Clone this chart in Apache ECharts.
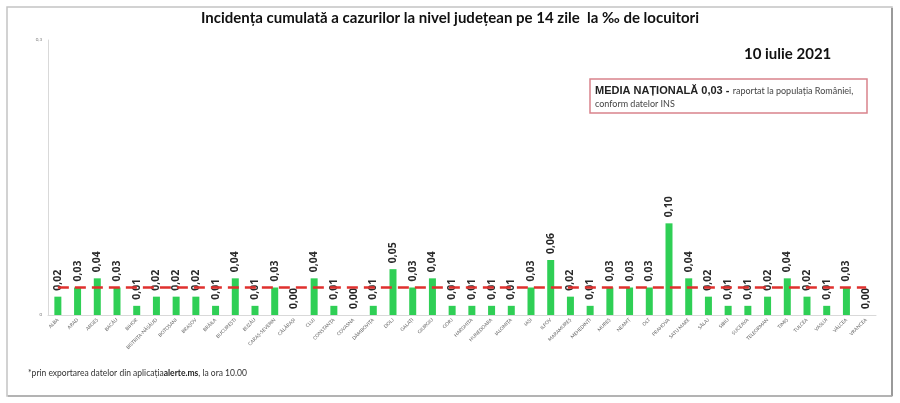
<!DOCTYPE html>
<html>
<head>
<meta charset="utf-8">
<script src="https://cdn.jsdelivr.net/npm/echarts@6/dist/echarts.min.js"></script>
<style>
html,body{margin:0;padding:0;background:#fff;}
#mainCharts{width:900px;height:403px;}
</style>
</head>
<body>
<div id="mainCharts"></div>
<script>
var judete=['ALBA','ARAD','ARGEȘ','BACĂU','BIHOR','BISTRIȚA-NĂSĂUD','BOTOȘANI','BRAȘOV','BRĂILA','BUCUREȘTI',
 'BUZĂU','CARAȘ-SEVERIN','CĂLĂRAȘI','CLUJ','CONSTANȚA','COVASNA','DÂMBOVIȚA','DOLJ','GALAȚI','GIURGIU',
 'GORJ','HARGHITA','HUNEDOARA','IALOMIȚA','IAȘI','ILFOV','MARAMUREȘ','MEHEDINȚI','MUREȘ','NEAMȚ',
 'OLT','PRAHOVA','SATU MARE','SĂLAJ','SIBIU','SUCEAVA','TELEORMAN','TIMIȘ','TULCEA','VASLUI',
 'VÂLCEA','VRANCEA'];
var incidenta=[0.02,0.03,0.04,0.03,0.01,0.02,0.02,0.02,0.01,0.04,
 0.01,0.03,0.00,0.04,0.01,0.00,0.01,0.05,0.03,0.04,
 0.01,0.01,0.01,0.01,0.03,0.06,0.02,0.01,0.03,0.03,
 0.03,0.10,0.04,0.02,0.01,0.01,0.02,0.04,0.02,0.01,
 0.03,0.00];
var mediaNationala=0.03;
var yMax=0.3;

var chart=echarts.init(document.getElementById('mainCharts'));
var fmt=function(v){return v.toFixed(2).replace('.',',');};

chart.setOption({
    animation:false,
    textStyle:{fontFamily:'Lato'},
    grid:{left:48,right:24,top:40,bottom:88},
    xAxis:{
        type:'category',data:judete,
        axisLine:{lineStyle:{color:'#d9d9d9',width:1}},
        axisTick:{show:false},
        axisLabel:{rotate:45,fontSize:4.8,color:'#666',margin:4,interval:0}
    },
    yAxis:{
        type:'value',min:0,max:yMax,interval:yMax,
        axisLine:{show:true,lineStyle:{color:'#d9d9d9'}},
        splitLine:{show:false},
        axisLabel:{fontSize:4.5,color:'#777',margin:6,formatter:function(v){return String(v).replace('.',',');}}
    },
    series:[{
        type:'bar',data:incidenta,barWidth:7,
        itemStyle:{color:'#2fcf55'},
        label:{show:true,position:'top',rotate:90,align:'left',verticalAlign:'middle',distance:6,
            fontFamily:'Open Sans',fontSize:10.5,fontWeight:'bold',color:'#2a2a2a',
            formatter:function(p){return fmt(p.value);}},
        markLine:{
            symbol:'none',silent:true,label:{show:false},
            lineStyle:{color:'#e0302e',type:[11,6],width:2.5},
            data:[[{coord:[0,mediaNationala]},{coord:[judete.length-1,mediaNationala]}]]
        }
    }],
    graphic:[
        // chenarul exterior
        {type:'rect',shape:{x:7,y:7,width:885,height:389},style:{fill:'none',stroke:'#c4c4c4',lineWidth:1.5},z:-1},
        {type:'line',shape:{x1:892,y1:8,x2:892,y2:396},style:{stroke:'#9a9a9a',lineWidth:2}},
        {type:'line',shape:{x1:8,y1:396,x2:892,y2:396},style:{stroke:'#a8a8a8',lineWidth:1.5}},
        {type:'text',left:'center',top:11,style:{text:'Incidența cumulată a cazurilor la nivel județean pe 14 zile  la ‰ de locuitori',
            font:'bold 15px Lato',fill:'#111'}},
        {type:'text',x:744,y:47,style:{text:'10 iulie 2021',font:'bold 15px Lato',fill:'#111'}},
        // caseta cu media nationala
        {type:'rect',shape:{x:590,y:79,width:277,height:34},style:{fill:'#fff',stroke:'#d9838c',lineWidth:1.5}},
        {type:'text',x:595,y:85,style:{rich:{b:{font:'bold 11px "Liberation Sans"',fill:'#222'},s:{font:'9px Lato',fill:'#444'}},
            text:'{b|MEDIA NAȚIONALĂ 0,03 -} {s|raportat la populația României,}'}},
        {type:'text',x:595,y:100,style:{text:'conform datelor INS',font:'9px Lato',fill:'#444'}},
        {type:'text',x:28,y:369,style:{rich:{n:{font:'8.5px Lato',fill:'#333'},b:{font:'bold 8.5px Lato',fill:'#222'}},
            text:'{n|*prin exportarea datelor din aplicația}{b|alerte.ms}{n|, la ora 10.00}'}}
    ]
});
</script>
</body>
</html>
